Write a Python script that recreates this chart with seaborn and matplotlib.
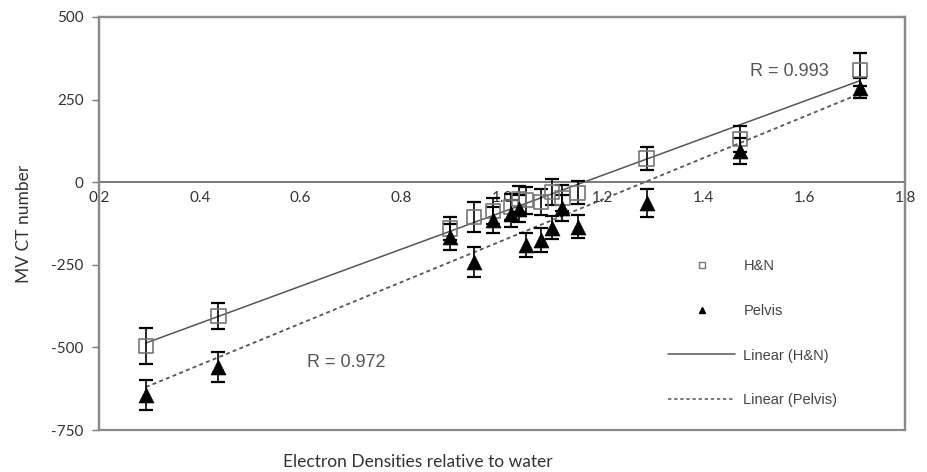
import numpy as np
import pandas as pd
import matplotlib
matplotlib.use("Agg")
import matplotlib.pyplot as plt
from matplotlib.lines import Line2D
from matplotlib.patches import Rectangle
import seaborn as sns

# ---- data ----
electron_density = [0.293, 0.437, 0.897, 0.945, 0.982, 1.018, 1.034, 1.048,
                    1.078, 1.100, 1.120, 1.150, 1.287, 1.473, 1.711]
hn_ct = [-495, -405, -140, -105, -88, -75, -50, -55, -60, -30, -48, -32, 72, 130, 340]
pelvis_ct = [-645, -560, -165, -242, -115, -95, -80, -190, -175, -138, -78, -135, -62, 95, 285]
hn_err = [55, 40, 35, 45, 40, 40, 40, 40, 40, 40, 40, 35, 35, 40, 50]
pelvis_err = [45, 45, 40, 45, 40, 40, 40, 35, 35, 35, 40, 35, 42, 40, 30]
x_ticks = [0.2, 0.4, 0.6, 0.8, 1.0, 1.2, 1.4, 1.6, 1.8]
y_ticks = [-750, -500, -250, 0, 250, 500]
r_hn = "R = 0.993"
r_pelvis = "R = 0.972"

df = pd.DataFrame({"ed": electron_density, "hn": hn_ct, "pelvis": pelvis_ct,
                   "hn_err": hn_err, "pelvis_err": pelvis_err})

sns.set_theme(style="white")
plt.rcParams["font.family"] = ["Lato", "DejaVu Sans"]

fig = plt.figure(figsize=(9.27, 4.72), dpi=100)
ax = fig.add_axes([99/927, 1-430/472, (905-99)/927, (430-17)/472])

# regression lines
sns.regplot(data=df, x="ed", y="hn", scatter=False, ci=None, ax=ax,
            line_kws=dict(color="#555555", lw=1.1, ls="-"))
sns.regplot(data=df, x="ed", y="pelvis", scatter=False, ci=None, ax=ax,
            line_kws=dict(color="#555555", lw=1.3, ls=(0, (2.2, 1.8))))

# error bars
ax.errorbar(df["ed"], df["hn"], yerr=df["hn_err"], fmt="none", ecolor="black",
            elinewidth=1.2, capsize=5, capthick=1.6, zorder=3)
ax.errorbar(df["ed"], df["pelvis"], yerr=df["pelvis_err"], fmt="none", ecolor="black",
            elinewidth=1.2, capsize=5, capthick=1.6, zorder=3)

# markers
sns.scatterplot(data=df, x="ed", y="hn", marker="s", s=105, facecolor="none",
                edgecolor="#777777", linewidth=1.2, ax=ax, zorder=4)
sns.scatterplot(data=df, x="ed", y="pelvis", marker="^", s=115, color="black",
                edgecolor="black", linewidth=0.5, ax=ax, zorder=4)

ax.set_xlim(0.2, 1.8)
ax.set_ylim(-750, 500)
ax.set_xticks(x_ticks)
ax.set_xticklabels([f"{t:.1f}" for t in x_ticks])
ax.set_yticks(y_ticks)
ax.set_yticklabels([str(t) for t in y_ticks])
ax.set_xlabel("")
ax.set_ylabel("MV CT number", fontsize=12.5, color="#333333", labelpad=14)

spine_c = "#8a8a8a"
for s in ["top", "right", "left", "bottom"]:
    ax.spines[s].set_visible(True)
    ax.spines[s].set_color(spine_c)
    ax.spines[s].set_linewidth(1.6)
ax.spines["bottom"].set_position(("data", 0))
ax.spines["bottom"].set_linewidth(1.3)
ax.spines["bottom"].set_color("#6f6f6f")
# outer border of the box
ax.add_patch(Rectangle((0, 0), 1, 1, transform=ax.transAxes, fill=False,
                       edgecolor=spine_c, linewidth=1.6, zorder=5, clip_on=False))

ax.tick_params(axis="x", direction="inout", length=5, width=1, color="#777777",
               labelsize=11, labelcolor="#333333", pad=4)
ax.tick_params(axis="y", direction="out", length=5, width=1, color="#777777",
               labelsize=11, labelcolor="#333333", pad=6, left=True)

# R annotations
ax.text(1.493, 335, r_hn, fontsize=13, color="#555555", family="Liberation Sans",
        va="center", ha="left")
ax.text(0.612, -545, r_pelvis, fontsize=13, color="#555555", family="Liberation Sans",
        va="center", ha="left")

# legend
handles = [
    Line2D([], [], ls="none", marker="s", markersize=5, markerfacecolor="none",
           markeredgecolor="#777777", markeredgewidth=1),
    Line2D([], [], ls="none", marker="^", markersize=5, color="black"),
    Line2D([], [], color="#555555", lw=1.1),
    Line2D([], [], color="#555555", lw=1.1, ls=(0, (2.2, 1.8))),
]
labels = ["H&N", "Pelvis", "Linear (H&N)", "Linear (Pelvis)"]
leg = ax.legend(handles, labels, loc="upper left", bbox_to_anchor=(0.69, 0.445),
                frameon=False, labelspacing=2.1, handlelength=4.6,
                handletextpad=0.55, labelcolor="#444444",
                prop={"family": "Liberation Sans", "size": 10.5})

fig.text(418/927, 1-462/472, "Electron Densities relative to water", fontsize=12.5,
         color="#333333", ha="center", va="center")

fig.savefig("out.png", dpi=100, facecolor="white")
